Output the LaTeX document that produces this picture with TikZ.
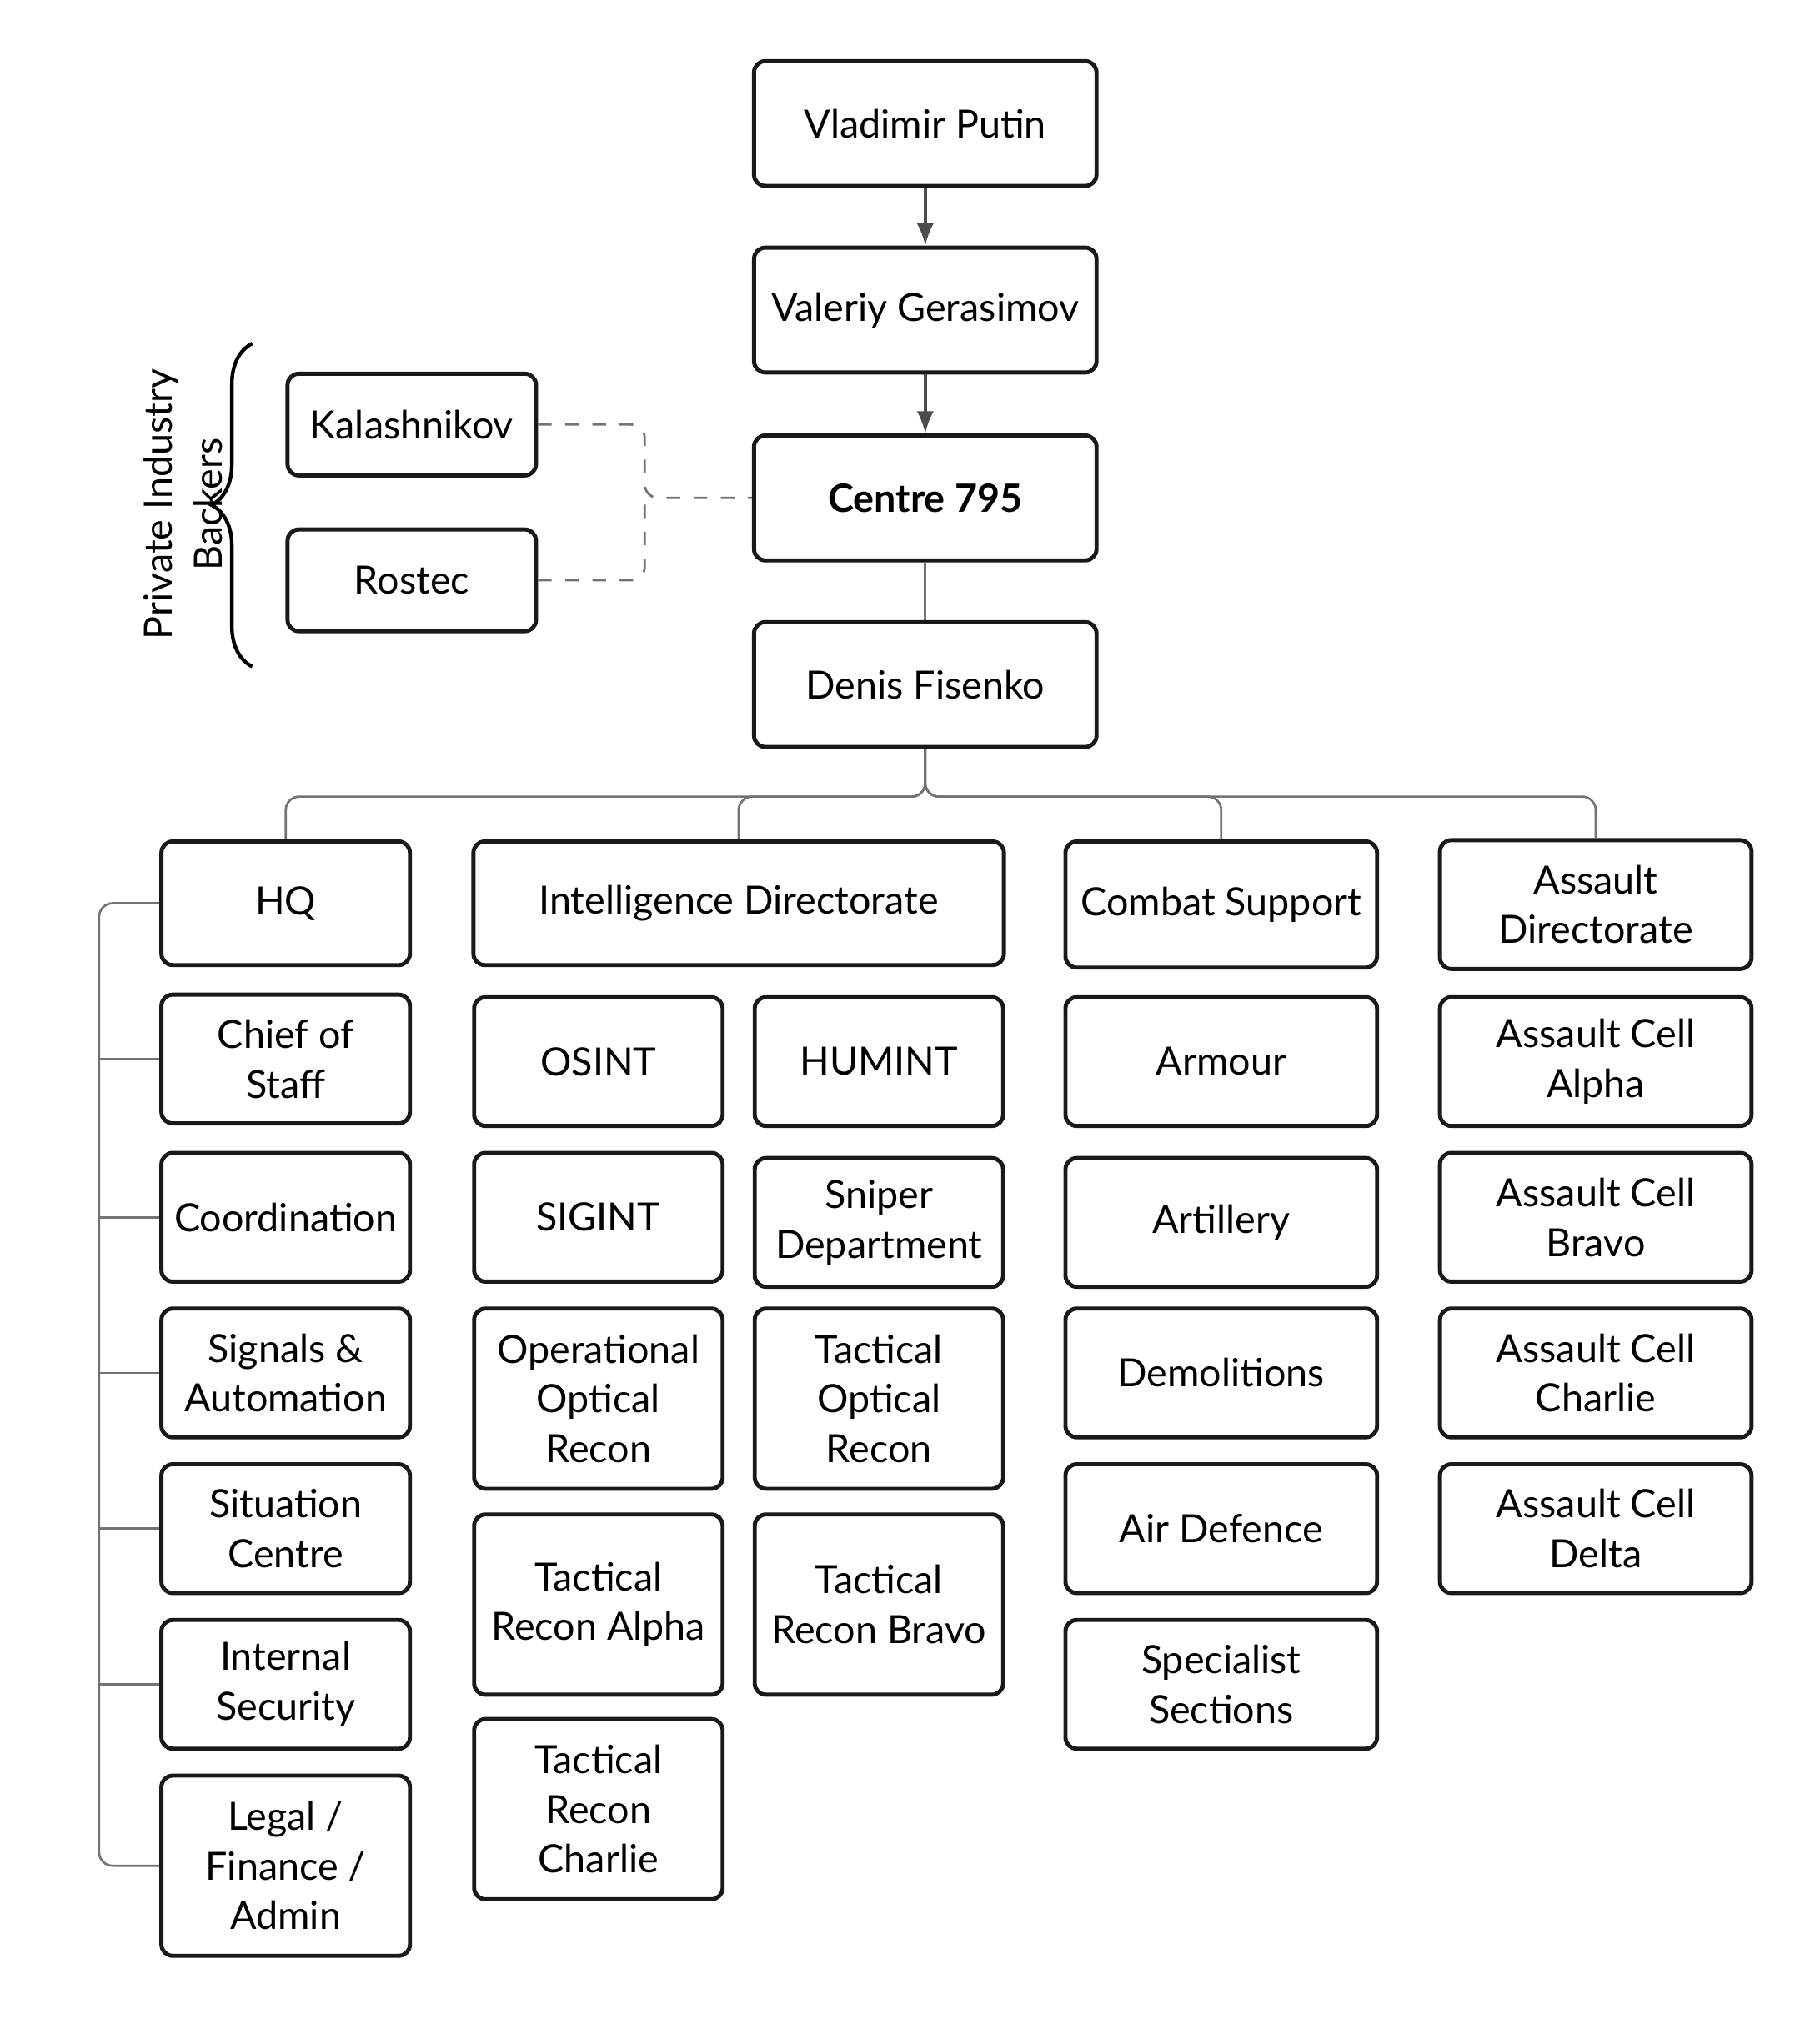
\documentclass[tikz,border=0pt]{standalone}
\usepackage{fontspec}
\setmainfont{Lato}
\usetikzlibrary{decorations.pathreplacing}
\tikzset{
  box/.style={draw=black!90, line width=0.9pt, rounded corners=2.5pt, align=center,
    font=\fontsize{8.6}{11}\selectfont, inner sep=0pt},
  unit/.style={box, minimum width=1.93cm, minimum height=1.00cm},
  link/.style={draw=black!55, line width=0.5pt, rounded corners=3pt},
  arr/.style={draw=black!70, line width=0.7pt, -{latex}},
}
\begin{document}
\begin{tikzpicture}[x=0.01cm, y=-0.01cm]
  \useasboundingbox (0,0) rectangle (1414,1573);
  % command chain
  \node[box, minimum width=2.66cm, minimum height=0.97cm] (putin) at (719,96) {Vladimir Putin};
  \node[box, minimum width=2.66cm, minimum height=0.97cm] (gera) at (719,241) {Valeriy Gerasimov};
  \node[box, minimum width=2.66cm, minimum height=0.97cm, font=\fontsize{8.6}{11}\selectfont\bfseries] (c795) at (719,387) {Centre 795};
  \node[box, minimum width=2.66cm, minimum height=0.97cm] (fis) at (719,532) {Denis Fisenko};
  \draw[arr] (putin) -- (gera);
  \draw[arr] (gera) -- (c795);
  \draw[link] (c795) -- (fis);
  % backers
  \node[box, minimum width=1.93cm, minimum height=0.79cm] (kal) at (320,330) {Kalashnikov};
  \node[box, minimum width=1.93cm, minimum height=0.79cm] (ros) at (320,451) {Rostec};
  \coordinate (join) at (501,387);
  \draw[link, dashed] (kal.east) -| (join) -- (c795.west);
  \draw[link, dashed] (ros.east) -| (join);
  \draw[line width=0.8pt, decorate, decoration={brace, amplitude=9pt}] (196,518) -- (196,267);
  \node[rotate=90, align=center, font=\fontsize{8.6}{11}\selectfont] (backers) at (142,392) {Private Industry\\Backers};
  % branch heads
  \node[unit, minimum height=0.96cm] (hq) at (222,702) {HQ};
  \node[box, minimum width=4.12cm, minimum height=0.96cm] (intel) at (574,702) {Intelligence Directorate};
  \node[box, minimum width=2.42cm, minimum height=0.98cm] (comb) at (949,703) {Combat Support};
  \node[box, minimum width=2.42cm, minimum height=1.00cm] (asl) at (1240,703) {Assault\\Directorate};
  \foreach \n in {hq,intel,comb,asl}
    \draw[link] (fis.south) -- ++(0,37) -| (\n.north);
  % HQ
  \node[unit] (cos) at (222,823) {Chief of\\Staff};
  \node[unit] (coord) at (222,946) {Coordination};
  \node[unit] (sig) at (222,1067) {Signals \&\\Automation};
  \node[unit] (sit) at (222,1188) {Situation\\Centre};
  \node[unit] (isec) at (222,1309) {Internal\\Security};
  \node[unit, minimum height=1.40cm] (legal) at (222,1450) {Legal /\\Finance /\\Admin};
  \coordinate (spine) at (77,702);
  \draw[link] (hq.west) -| (spine |- legal.west) -- (legal.west);
  \foreach \n in {cos,coord,sig,sit,isec}
    \draw[link] (spine |- \n.west) -- (\n.west);
  % intelligence
  \node[unit] (osint) at (465,825) {OSINT};
  \node[unit] (humint) at (683,825) {HUMINT};
  \node[unit] (sigint) at (465,946) {SIGINT};
  \node[unit] (snip) at (683,950) {Sniper\\Department};
  \node[unit, minimum height=1.40cm] (oor) at (465,1087) {Operational\\Optical\\Recon};
  \node[unit, minimum height=1.40cm] (tor) at (683,1087) {Tactical\\Optical\\Recon};
  \node[unit, minimum height=1.40cm] (tra) at (465,1247) {Tactical\\Recon Alpha};
  \node[unit, minimum height=1.40cm] (trb) at (683,1247) {Tactical\\Recon Bravo};
  \node[unit, minimum height=1.40cm] (trc) at (465,1406) {Tactical\\Recon\\Charlie};
  % combat support
  \node[unit, minimum width=2.42cm] (arm) at (949,825) {Armour};
  \node[unit, minimum width=2.42cm] (art) at (949,950) {Artillery};
  \node[unit, minimum width=2.42cm] (demo) at (949,1067) {Demolitions};
  \node[unit, minimum width=2.42cm] (aird) at (949,1188) {Air Defence};
  \node[unit, minimum width=2.42cm] (spec) at (949,1309) {Specialist\\Sections};
  % assault
  \node[unit, minimum width=2.42cm] (aca) at (1240,825) {Assault Cell\\Alpha};
  \node[unit, minimum width=2.42cm] (acb) at (1240,946) {Assault Cell\\Bravo};
  \node[unit, minimum width=2.42cm] (acc) at (1240,1067) {Assault Cell\\Charlie};
  \node[unit, minimum width=2.42cm] (acd) at (1240,1188) {Assault Cell\\Delta};
\end{tikzpicture}
\end{document}
